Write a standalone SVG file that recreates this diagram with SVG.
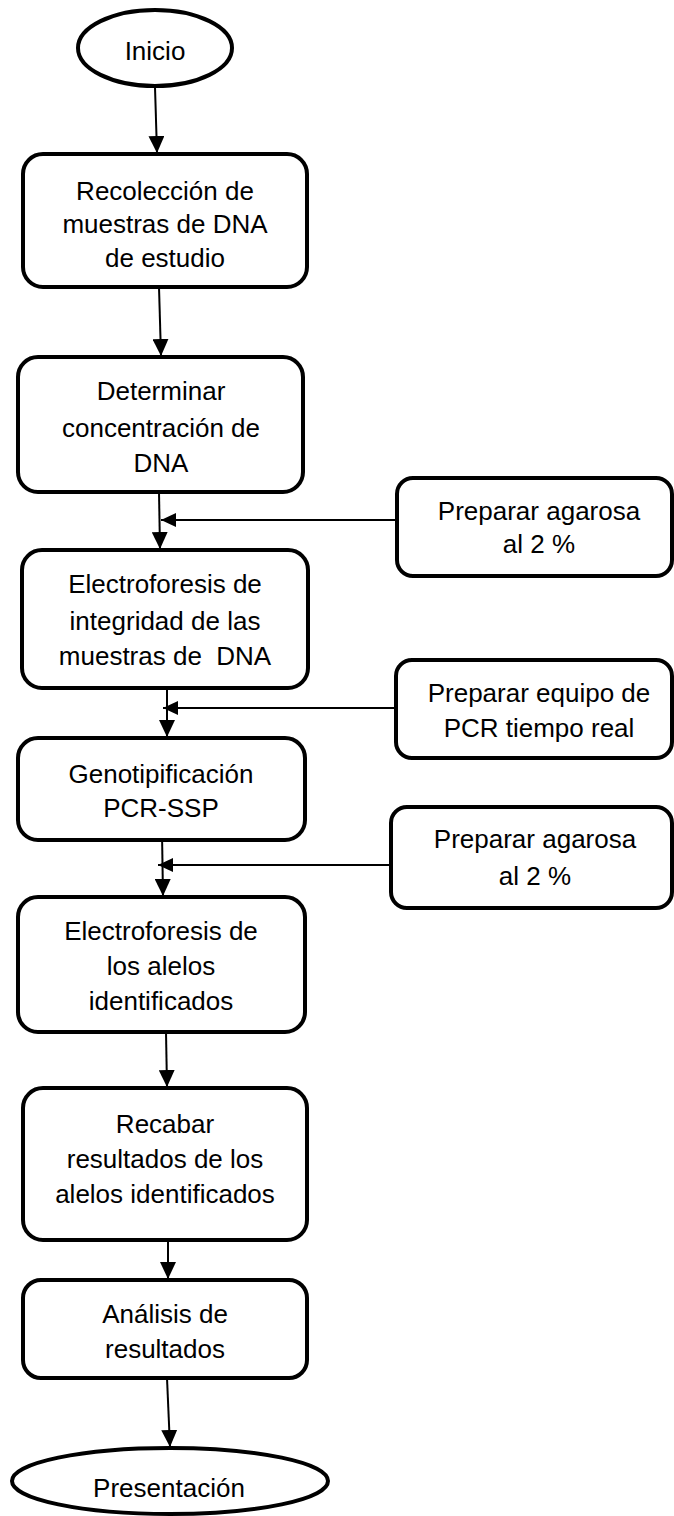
<svg xmlns="http://www.w3.org/2000/svg" width="674" height="1516" viewBox="0 0 674 1516">
<style>
.n{fill:#fff;stroke:#000;stroke-width:4}
.t{font-family:"Liberation Sans",Arial,sans-serif;font-size:26px;fill:#000;text-anchor:middle}
.c{stroke:#000;stroke-width:2;fill:none}
.s{stroke:#000;stroke-width:2;fill:none}
</style>
<defs>
<marker id="ah" markerUnits="userSpaceOnUse" markerWidth="17" markerHeight="16" refX="17" refY="8" orient="auto"><path d="M0,0 L17,8 L0,16 z" fill="#000"/></marker>
<marker id="as" markerUnits="userSpaceOnUse" markerWidth="15" markerHeight="14" refX="15" refY="7" orient="auto"><path d="M0,0 L15,7 L0,14 z" fill="#000"/></marker>
</defs>
<rect width="674" height="1516" fill="#fff"/>
<g id="connectors">
<line class="c" x1="155" y1="87" x2="157" y2="153" marker-end="url(#ah)"/>
<line class="c" x1="159" y1="287" x2="161" y2="356" marker-end="url(#ah)"/>
<line class="c" x1="159" y1="492" x2="160" y2="549" marker-end="url(#ah)"/>
<line class="s" x1="397" y1="520" x2="161" y2="520" marker-end="url(#as)"/>
<line class="c" x1="167" y1="688" x2="167" y2="737" marker-end="url(#ah)"/>
<line class="s" x1="396" y1="708" x2="163" y2="708" marker-end="url(#as)"/>
<line class="c" x1="162" y1="833" x2="163" y2="896" marker-end="url(#ah)"/>
<line class="s" x1="391" y1="865" x2="158" y2="865" marker-end="url(#as)"/>
<line class="c" x1="166" y1="1032" x2="167" y2="1087" marker-end="url(#ah)"/>
<line class="c" x1="168" y1="1240" x2="168" y2="1279" marker-end="url(#ah)"/>
<line class="c" x1="167" y1="1378" x2="170" y2="1447" marker-end="url(#ah)"/>
</g>
<g id="inicio">
<ellipse class="n" cx="155" cy="48" rx="77" ry="38"/>
<text class="t" x="155" y="60">Inicio</text>
</g>
<g id="recoleccion">
<rect class="n" x="23" y="154" width="284" height="133" rx="20"/>
<text class="t" x="165" y="200">Recolección de</text>
<text class="t" x="165" y="233">muestras de DNA</text>
<text class="t" x="165" y="267">de estudio</text>
</g>
<g id="determinar">
<rect class="n" x="18" y="357" width="285" height="135" rx="20"/>
<text class="t" x="161" y="400">Determinar</text>
<text class="t" x="161" y="437">concentración de</text>
<text class="t" x="161" y="472">DNA</text>
</g>
<g id="agarosa1">
<rect class="n" x="397" y="478" width="275" height="98" rx="16"/>
<text class="t" x="539" y="520">Preparar agarosa</text>
<text class="t" x="539" y="553">al 2 %</text>
</g>
<g id="electro1">
<rect class="n" x="22" y="550" width="286" height="138" rx="20"/>
<text class="t" x="165" y="593">Electroforesis de</text>
<text class="t" x="165" y="630">integridad de las</text>
<text class="t" x="165" y="665" xml:space="preserve">muestras de  DNA</text>
</g>
<g id="equipo">
<rect class="n" x="396" y="660" width="276" height="98" rx="16"/>
<text class="t" x="539" y="702">Preparar equipo de</text>
<text class="t" x="539" y="737">PCR tiempo real</text>
</g>
<g id="genotip">
<rect class="n" x="18" y="738" width="287" height="102" rx="20"/>
<text class="t" x="161" y="783">Genotipificación</text>
<text class="t" x="161" y="817">PCR-SSP</text>
</g>
<g id="agarosa2">
<rect class="n" x="391" y="807" width="281" height="101" rx="16"/>
<text class="t" x="535" y="848">Preparar agarosa</text>
<text class="t" x="535" y="885">al 2 %</text>
</g>
<g id="electro2">
<rect class="n" x="18" y="897" width="287" height="135" rx="20"/>
<text class="t" x="161" y="940">Electroforesis de</text>
<text class="t" x="161" y="975">los alelos</text>
<text class="t" x="161" y="1010">identificados</text>
</g>
<g id="recabar">
<rect class="n" x="23" y="1088" width="284" height="152" rx="20"/>
<text class="t" x="165" y="1133">Recabar</text>
<text class="t" x="165" y="1168">resultados de los</text>
<text class="t" x="165" y="1203">alelos identificados</text>
</g>
<g id="analisis">
<rect class="n" x="23" y="1280" width="284" height="98" rx="18"/>
<text class="t" x="165" y="1323">Análisis de</text>
<text class="t" x="165" y="1358">resultados</text>
</g>
<g id="presentacion">
<ellipse class="n" cx="170" cy="1481" rx="158" ry="33"/>
<text class="t" x="169" y="1497">Presentación</text>
</g>
</svg>
